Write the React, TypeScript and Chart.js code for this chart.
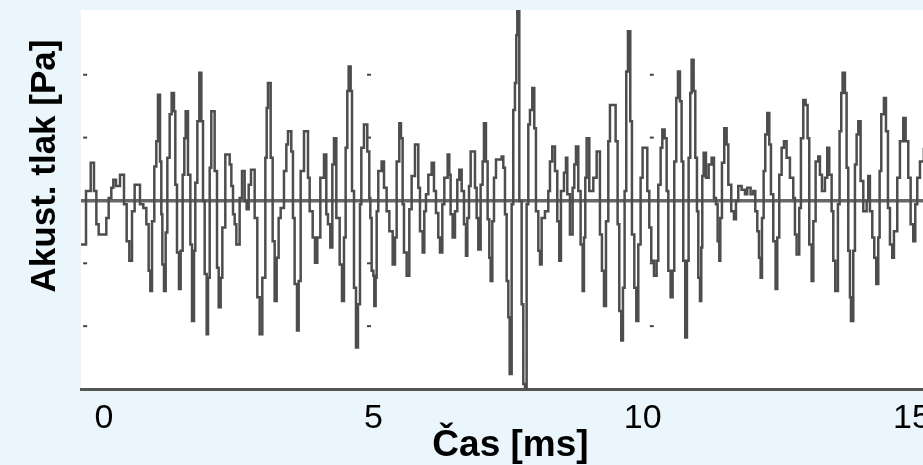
import { useEffect, useRef } from "react";
import { Chart, registerables } from "chart.js";

Chart.register(...registerables);

// ---- Data ----
const TIME_MS = [
  -0.427, -0.334, -0.247, -0.186, -0.142, -0.099, 0.043, 0.087, 0.136, 0.173, 0.223, 0.297, 0.371, 0.421, 0.47, 0.52,
  0.569, 0.668, 0.73, 0.786, 0.829, 0.86, 0.891, 0.934, 0.971, 1.002, 1.04, 1.064, 1.083, 1.114, 1.145, 1.176,
  1.219, 1.256, 1.299, 1.324, 1.355, 1.392, 1.423, 1.46, 1.491, 1.516, 1.559, 1.603, 1.634, 1.671, 1.695, 1.733,
  1.77, 1.807, 1.838, 1.869, 1.906, 1.931, 1.962, 1.992, 2.054, 2.098, 2.129, 2.166, 2.197, 2.252, 2.333, 2.364,
  2.395, 2.426, 2.457, 2.518, 2.562, 2.611, 2.648, 2.686, 2.729, 2.797, 2.846, 2.89, 2.939, 2.995, 3.02, 3.044,
  3.094, 3.131, 3.168, 3.205, 3.242, 3.28, 3.341, 3.385, 3.416, 3.477, 3.508, 3.539, 3.583, 3.614, 3.651, 3.713,
  3.787, 3.818, 3.874, 3.917, 3.96, 4.016, 4.084, 4.127, 4.158, 4.201, 4.239, 4.27, 4.313, 4.375, 4.418, 4.455,
  4.486, 4.517, 4.542, 4.579, 4.604, 4.641, 4.678, 4.715, 4.752, 4.777,
  4.826, 4.888, 4.925, 4.944, 4.969, 5.0, 5.018, 5.043, 5.062, 5.092, 5.154, 5.198, 5.247, 5.297, 5.359, 5.402,
  5.433, 5.482, 5.513, 5.544, 5.569, 5.619, 5.668, 5.711, 5.773, 5.835, 5.866, 5.916, 5.946, 5.977, 6.021, 6.083,
  6.126, 6.163, 6.206, 6.237, 6.281, 6.318, 6.38, 6.41, 6.435, 6.472, 6.516, 6.559, 6.596, 6.64, 6.683, 6.72,
  6.745, 6.776, 6.807, 6.887, 6.918, 6.949, 6.992, 7.029, 7.054, 7.091, 7.122, 7.153, 7.178, 7.209, 7.24, 7.277,
  7.382, 7.413, 7.444, 7.475, 7.506, 7.531, 7.568, 7.598, 7.629, 7.654, 7.673, 7.71, 7.753, 7.784, 7.815, 7.846,
  7.877, 7.908, 7.951, 7.988, 8.019, 8.063, 8.094, 8.125, 8.186, 8.248, 8.279, 8.322, 8.372, 8.415, 8.452, 8.483,
  8.539, 8.576, 8.601, 8.65, 8.7, 8.731, 8.762, 8.805, 8.848, 8.886, 8.91, 8.935, 8.96, 9.009, 9.084, 9.146,
  9.207, 9.244, 9.282, 9.319, 9.362, 9.393, 9.498, 9.535, 9.566, 9.603, 9.634, 9.665, 9.696, 9.727, 9.77, 9.801,
  9.845, 9.882, 9.919, 9.962, 9.999,
  10.086, 10.123, 10.16, 10.21, 10.259, 10.29, 10.334, 10.365, 10.408, 10.445, 10.476, 10.519, 10.556, 10.587,
  10.624, 10.655, 10.692, 10.723, 10.754, 10.791, 10.822, 10.853, 10.884, 10.909, 10.946, 10.977, 11.008, 11.033,
  11.064, 11.088, 11.107, 11.132, 11.175, 11.225, 11.28, 11.324, 11.361, 11.392, 11.423, 11.441, 11.472, 11.515,
  11.559, 11.59, 11.645, 11.695, 11.732, 11.775, 11.837, 11.899, 11.942, 12.004, 12.054, 12.091, 12.128, 12.159,
  12.19, 12.215, 12.246, 12.276, 12.314, 12.351, 12.382, 12.425, 12.468, 12.499, 12.536, 12.58, 12.623, 12.672,
  12.734, 12.796, 12.827, 12.858, 12.907, 12.938, 12.982, 13.025, 13.062, 13.093, 13.137, 13.168, 13.211, 13.26,
  13.291, 13.328, 13.384, 13.427, 13.464, 13.508, 13.539, 13.576, 13.625, 13.656, 13.687, 13.712, 13.755, 13.786,
  13.817, 13.848, 13.867, 13.91, 13.941, 13.972, 14.003, 14.046, 14.096, 14.158, 14.188, 14.219, 14.263, 14.3,
  14.337, 14.374, 14.399, 14.43, 14.479, 14.517, 14.554, 14.591, 14.634, 14.665, 14.727, 14.776, 14.838, 14.882,
  14.931, 14.975, 15.024, 15.061, 15.098, 15.148, 15.22,
];

const PRESSURE_PA = [
  -0.7, 0.15, 0.6, 0.15, -0.38, -0.54, -0.28, 0.04, 0.2, 0.33, 0.23, 0.41, -0.06, -0.65, -0.96, -0.17,
  0.25, -0.06, -0.12, -0.38, -1.12, -1.44, -0.33, 0.54, 0.94, 1.68, 0.62, -0.22, -1.02, -1.44, -0.51, 0.68,
  1.37, 1.71, 1.42, 0.25, -0.83, -1.41, -0.8, 0.41, 0.99, 1.42, 0.41, -0.7, -1.92, -0.8, 0.28, 1.26,
  2.03, 1.26, -0.01, -1.17, -2.13, -1.23, 0.52, 1.42, 0.47, -1.07, -1.7, -1.23, -0.43, 0.73, 0.57, 0.23,
  -0.22, -0.38, -0.7, 0.04, 0.47, -0.01, -0.14, 0.25, 0.49, -0.28, -1.54, -2.13, -1.23, 0.68, 1.47, 1.87,
  0.68, -0.65, -1.6, -0.91, -0.28, -0.12, 0.47, 0.89, 1.1, 0.78, -0.28, -1.33, -2.07, -1.28, 0.47, 1.1,
  0.36, -0.17, -0.59, -0.99, -0.59, 0.36, 0.73, -0.22, -0.38, -0.75, 0.57, 0.99, -0.28, -1.02, -1.6, -0.59,
  0.84, 1.74, 2.13, 1.74, 0.15, -1.39, -2.34, -1.65, -0.06, 0.84,
  1.21, 0.78, 0.04, -0.28, -1.12, -1.2, -1.68, -1.23, -0.17, 0.47, 0.62, 0.2, -0.17, -0.49, -1.02, -0.59,
  0.62, 1.23, 0.99, -0.06, -0.83, -1.2, -0.14, 0.39, 0.89, 0.2, -0.49, -0.83, -0.17, 0.1, 0.41, 0.6,
  0.15, -0.2, -0.59, -0.83, -0.06, 0.36, 0.73, 0.41, -0.22, -0.59, -0.17, 0.33, 0.49, 0.15, -0.38, -0.88,
  -0.28, 0.23, 0.78, 0.2, -0.28, -0.78, 0.25, 0.62, 1.23, 0.62, -0.3, -0.91, -1.28, -0.33, 0.36, 0.65,
  0.7, 0.52, -0.22, -1.28, -1.86, -2.76, -0.06, 1.44, 1.87, 2.63, 3.1, -0.01, -1.65, -2.92, -3.1, -0.06,
  1.21, 1.44, 1.79, 1.15, -0.17, -0.8, -1.02, -0.28, -0.17, 0.15, 0.62, 0.86, 0.47, -0.33, -0.96, 0.15,
  0.44, 0.68, 0.1, -0.54, 0.2, 0.57, 0.86, 0.15, -0.7, -1.44, -0.59, 0.36, 0.99, 0.15, 0.36, 0.78,
  -0.54, -1.12, -1.68, -0.33, 0.94, 1.52, 0.94, -0.38, -1.76, -2.23, -1.39, 0.15, 2.05, 2.69, 1.26, -0.54,
  -1.39, -1.92, -0.7, 0.36, 0.84,
  0.15, -0.43, -0.96, -1.2, -0.96, 0.25, 0.84, 1.13, 0.99, 0.15, -1.12, -1.54, -1.12, 0.62,
  1.63, 2.05, 1.58, 0.62, -0.96, -2.18, -0.96, 0.68, 1.71, 2.24, 1.74, 0.68, -0.17, -1.23,
  -1.6, -0.75, 0.39, 0.76, 0.36, 0.57, 0.68, 0.04, -0.06, -0.65, -0.96, -0.28, 0.6, 1.15,
  0.89, 0.25, -0.17, -0.3, -0.01, 0.23, 0.17, 0.1, 0.2, 0.1, 0.15, -0.17, -0.49, -0.91,
  -1.23, -0.28, 0.47, 1.05, 1.39, 0.89, 0.1, -0.65, -1.41, -0.59, 0.41, 0.84, 0.94, 0.68,
  0.36, 0.04, -0.54, -0.86, -0.12, 0.99, 1.6, 1.52, 0.99, -0.7, -1.28, -0.33, 0.62, 0.7,
  0.41, 0.15, 0.36, 0.84, 0.41, -0.17, -0.96, -1.44, -0.06, 1.1, 1.71, 2.03, 1.71, 0.52,
  -0.8, -1.54, -1.92, -0.8, 0.57, 1.05, 1.26, 0.31, -0.17, -0.01, 0.39, -0.17, -0.59, -0.91,
  -1.33, -0.59, 0.47, 1.37, 1.63, 1.1, -0.12, -0.7, -0.91, -0.49, 0.36, 0.94, 1.31, 0.94,
  0.36, -0.38, -0.65, -0.06, 0.36, 0.62, 0.84,
];

const X_TICKS = [0, 5, 10, 15];
const X_TICK_LABELS = ["0", "5", "10", "15"];
const X_MIN = -0.427;
const X_MAX = 15.52;
const Y_MIN = -3;
const Y_MAX = 3.03;
const GRID_MARK_X_MS = [-0.35, 4.92, 10.17];
const GRID_MARK_Y_PA = [2, 1, -1, -2];
const X_TITLE = "Čas [ms]";
const Y_TITLE = "Akust. tlak [Pa]";

const FONT = "'Liberation Sans', Arial, sans-serif";

const decorPlugin = {
  id: "decor",
  beforeDraw(chart: any) {
    const { ctx, chartArea: a } = chart;
    ctx.save();
    ctx.fillStyle = "#ffffff";
    ctx.fillRect(a.left, a.top, a.right - a.left, a.bottom - a.top);
    ctx.restore();
  },
  beforeDatasetsDraw(chart: any) {
    const { ctx } = chart;
    const xs = chart.scales.x;
    const ys = chart.scales.y;
    ctx.save();
    ctx.fillStyle = "#444444";
    for (const gx of GRID_MARK_X_MS) {
      for (const gy of GRID_MARK_Y_PA) {
        const px = xs.getPixelForValue(gx);
        const py = ys.getPixelForValue(gy);
        ctx.fillRect(px - 2, py - 1, 4, 2);
      }
    }
    ctx.restore();
  },
  afterDraw(chart: any) {
    const { ctx, chartArea: a } = chart;
    ctx.save();
    ctx.fillStyle = "#000000";
    ctx.textAlign = "center";
    ctx.textBaseline = "middle";
    // x-axis title, centred under the plot area
    ctx.font = `bold 37px ${FONT}`;
    ctx.fillText(X_TITLE, (a.left + a.right) / 2, 446);
    // y-axis title, rotated
    ctx.translate(45, 166);
    ctx.rotate(-Math.PI / 2);
    ctx.font = `bold 35px ${FONT}`;
    ctx.fillText(Y_TITLE, 0, 0);
    ctx.restore();
  },
};

export default function App() {
  const canvasRef = useRef<HTMLCanvasElement | null>(null);

  useEffect(() => {
    const canvas = canvasRef.current;
    if (!canvas) return;
    const points = TIME_MS.map((t, i) => ({ x: t, y: PRESSURE_PA[i] }));
    const chart = new Chart(canvas, {
      type: "line",
      data: {
        datasets: [
          {
            data: points,
            stepped: true,
            borderColor: "#4d4d4d",
            borderWidth: 2.5,
            pointRadius: 0,
            fill: false,
          },
        ],
      },
      options: {
        animation: false,
        responsive: false,
        devicePixelRatio: 1,
        layout: { padding: { left: 81, top: 10, right: 20, bottom: 16 } },
        plugins: {
          legend: { display: false },
          tooltip: { enabled: false },
        },
        scales: {
          x: {
            type: "linear",
            min: X_MIN,
            max: X_MAX,
            afterBuildTicks: (scale: any) => {
              scale.ticks = X_TICKS.map((v) => ({ value: v }));
            },
            ticks: {
              autoSkip: false,
              maxRotation: 0,
              padding: 16.4,
              color: "#000000",
              font: { family: FONT, size: 34, lineHeight: 0.8 },
              callback: (v: any) => {
                const i = X_TICKS.indexOf(Number(v));
                return i >= 0 ? X_TICK_LABELS[i] : "";
              },
            },
            grid: { display: true, drawOnChartArea: false, drawTicks: false, color: "rgba(0,0,0,0)" },
            border: { display: true, color: "#555555", width: 3 },
            title: { display: false },
          },
          y: {
            type: "linear",
            min: Y_MIN,
            max: Y_MAX,
            afterBuildTicks: (scale: any) => {
              scale.ticks = [0].map((v) => ({ value: v }));
            },
            ticks: { display: false },
            grid: {
              drawTicks: false,
              lineWidth: 3.5,
              color: (ctx: any) => (ctx.tick && ctx.tick.value === 0 ? "#666666" : "rgba(0,0,0,0)"),
            },
            border: { display: false },
            title: { display: false },
          },
        },
      },
      plugins: [decorPlugin],
    } as any);
    return () => chart.destroy();
  }, []);

  return (
    <div
      style={{
        position: "fixed",
        left: 0,
        top: 0,
        width: 923,
        height: 465,
        overflow: "hidden",
        background: "#eaf6fc",
      }}
    >
      <canvas ref={canvasRef} width={960} height={465} style={{ display: "block" }} />
    </div>
  );
}
